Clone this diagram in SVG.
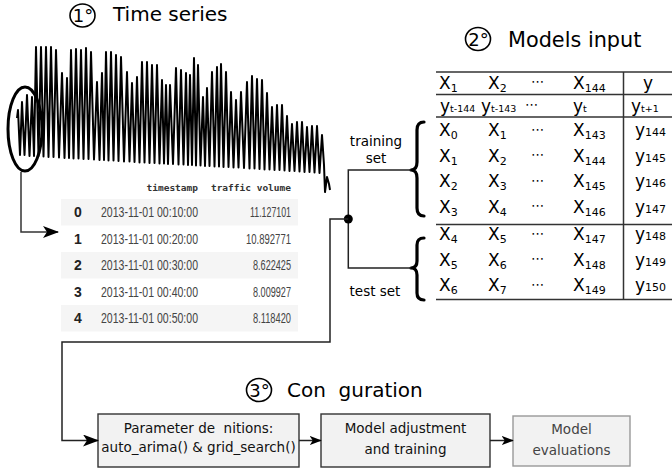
<svg xmlns="http://www.w3.org/2000/svg" width="672" height="470" viewBox="0 0 672 470">
<style>
.t{font-family:"DejaVu Sans","Liberation Sans",sans-serif;fill:#000}
.title{font-size:20px}
.title2{font-size:20.8px}
.circ{font-size:18px}
.ring{fill:none;stroke:#000;stroke-width:1.6}
.m{font-size:17px}
.s{font-size:11px}
.ss{font-size:9.5px}
.hl{stroke:#333;stroke-width:1.5}
.lbl{font-size:13.5px}
.ph{font-family:"DejaVu Sans Mono",monospace;font-weight:bold;font-size:9.5px;fill:#333}
.pi{font-family:"Liberation Sans",Arial,sans-serif;font-weight:bold;font-size:14px;fill:#222}
.pt{font-family:"Liberation Sans",Arial,sans-serif;font-size:14px;fill:#444}
.band{fill:#f5f5f5}
.box{fill:#f2f2f2;stroke:#333;stroke-width:1.4}
.box3{fill:#f2f2f2;stroke:#999;stroke-width:1.4}
.bt{font-family:"DejaVu Sans","Liberation Sans",sans-serif;font-size:13.5px;fill:#111;text-anchor:middle}
.pre{white-space:pre}
.conn{fill:none;stroke:#222;stroke-width:1.5}
.brace{fill:none;stroke:#000;stroke-width:3.2;stroke-linejoin:round;stroke-linecap:round}
</style>
<defs>
<marker id="arr" viewBox="0 0 16 12" markerWidth="16" markerHeight="12" refX="15" refY="6" orient="auto" markerUnits="userSpaceOnUse">
<path d="M0,0 L16,6 L0,12 L4,6 z" fill="#000"/>
</marker>
<marker id="arrs" viewBox="0 0 16 12" markerWidth="12" markerHeight="9" refX="15" refY="6" orient="auto" markerUnits="userSpaceOnUse">
<path d="M0,0 L16,6 L0,12 L4,6 z" fill="#000"/>
</marker>
</defs>

<g id="title1">
<ellipse class="ring" cx="82.5" cy="15.5" rx="12.5" ry="11.5"/>
<text class="t circ" x="83" y="22" text-anchor="middle">1°</text>
<text class="t title" x="113" y="21">Time series</text>
</g>

<g id="timeseries">
<polyline fill="none" stroke="#000" stroke-width="2" stroke-linejoin="round" points="17,118 18,110 20,155 22,102 24.5,155 27,95 29.5,156 32,97 34,156 36,47 38.5,156 41,47 43.5,156.5 46,47 48.5,157 51,47 53.5,157 56,50 59,157.5 62,73 64.5,158 67,78 69,158 71,50 73.5,158.5 76,49 78.5,158.5 81,50 83.5,159 86,48 88.5,159 91,52 94,159.5 97,82 99.5,160 102,73 104,160 106,52 108.5,160.5 111,52 113.5,160.5 116,55 118.5,161 121,57 124,161.5 127,72 129.5,161.5 132,83 134.5,162 137,77 139.5,162.5 142,62 144.5,162.5 147,62 149.5,163 152,65 154.5,163 157,65 159.5,163.5 162,80 164,163.5 166,85 168,164 170,85 173,164 176,68 178.5,164.5 181,70 183.5,164.5 186,73 188,165 190,75 192,165 194,58 196,165.5 198,65 200.5,165.5 203,97 205,166 207,88 209.5,166 212,72 214.5,166.5 217,67 219,166.5 221,64 223.5,167 226,72 228.5,167 231,92 233.5,167.5 236,100 238.5,167.5 241,92 244,168 247,82 249.5,168.5 252,76 254.5,168.5 257,79 259.5,169 262,80 264.5,169.5 267,93 269.5,169.5 272,107 274.5,170 277,105 279.5,170 282,105 284.5,170.5 287,116 289.5,171 292,124 294.5,171 297,122 299.5,171.5 302,122 304.5,172 307,127 309.5,172 312,126 314.5,172.5 317,126 319.5,173 322,135 324,165 325,192 327,177 329,184 330,190"/>
<ellipse cx="25" cy="129" rx="17" ry="42" fill="none" stroke="#000" stroke-width="3"/>
</g>

<g id="dataframe">
<rect class="band" x="61" y="199" width="237" height="26.5"/>
<rect class="band" x="61" y="252" width="237" height="26.5"/>
<rect class="band" x="61" y="305" width="237" height="26.5"/>
<text class="ph" x="198" y="191" text-anchor="end">timestamp</text>
<text class="ph" x="291" y="191" text-anchor="end">traffic volume</text>
<text class="pi" x="78" y="217" text-anchor="middle">0</text>
<text class="pi" x="78" y="243.5" text-anchor="middle">1</text>
<text class="pi" x="78" y="270" text-anchor="middle">2</text>
<text class="pi" x="78" y="296.5" text-anchor="middle">3</text>
<text class="pi" x="78" y="323" text-anchor="middle">4</text>
<text class="pt" x="101" y="217" textLength="97" lengthAdjust="spacingAndGlyphs">2013-11-01 00:10:00</text>
<text class="pt" x="101" y="243.5" textLength="97" lengthAdjust="spacingAndGlyphs">2013-11-01 00:20:00</text>
<text class="pt" x="101" y="270" textLength="97" lengthAdjust="spacingAndGlyphs">2013-11-01 00:30:00</text>
<text class="pt" x="101" y="296.5" textLength="97" lengthAdjust="spacingAndGlyphs">2013-11-01 00:40:00</text>
<text class="pt" x="101" y="323" textLength="97" lengthAdjust="spacingAndGlyphs">2013-11-01 00:50:00</text>
<text class="pt" x="250" y="217" textLength="41" lengthAdjust="spacingAndGlyphs">11.127101</text>
<text class="pt" x="246" y="243.5" textLength="45" lengthAdjust="spacingAndGlyphs">10.892771</text>
<text class="pt" x="253" y="270" textLength="38" lengthAdjust="spacingAndGlyphs">8.622425</text>
<text class="pt" x="253" y="296.5" textLength="38" lengthAdjust="spacingAndGlyphs">8.009927</text>
<text class="pt" x="253" y="323" textLength="38" lengthAdjust="spacingAndGlyphs">8.118420</text>
</g>

<g id="title2">
<ellipse class="ring" cx="478" cy="39" rx="12.5" ry="11.5"/>
<text class="t circ" x="478.5" y="45.5" text-anchor="middle">2°</text>
<text class="t title2" x="508" y="47">Models input</text>
</g>

<g id="models-input">
<line class="hl" x1="436" y1="72" x2="672" y2="72"/>
<line class="hl" x1="436" y1="94.5" x2="672" y2="94.5"/>
<line class="hl" x1="436" y1="117" x2="672" y2="117"/>
<line class="hl" x1="436" y1="224.5" x2="672" y2="224.5"/>
<line class="hl" x1="436" y1="299.5" x2="672" y2="299.5"/>
<line class="hl" x1="623.5" y1="72" x2="623.5" y2="299.5"/>
<g class="t m">
<text x="439" y="88.5">X<tspan class="s" dy="3">1</tspan></text>
<text x="488" y="88.5">X<tspan class="s" dy="3">2</tspan></text>
<text x="531" y="86" font-size="13">⋯</text>
<text x="573" y="88.5">X<tspan class="s" dy="3">144</tspan></text>
<text x="643" y="88.5">y</text>

<text x="440" y="111.5">y<tspan class="ss">t-144</tspan></text>
<text x="481" y="111.5">y<tspan class="ss">t-143</tspan></text>
<text x="525" y="109" font-size="13">⋯</text>
<text x="573" y="111.5">y<tspan class="ss">t</tspan></text>
<text x="631" y="111.5">y<tspan class="ss" font-size="10.5">t+1</tspan></text>

<text x="439" y="136">X<tspan class="s" dy="3">0</tspan></text>
<text x="488" y="136">X<tspan class="s" dy="3">1</tspan></text>
<text x="531" y="133.5" font-size="13">⋯</text>
<text x="573" y="136">X<tspan class="s" dy="3">143</tspan></text>
<text x="635" y="136">y<tspan class="s">144</tspan></text>

<text x="439" y="161.5">X<tspan class="s" dy="3">1</tspan></text>
<text x="488" y="161.5">X<tspan class="s" dy="3">2</tspan></text>
<text x="531" y="159" font-size="13">⋯</text>
<text x="573" y="161.5">X<tspan class="s" dy="3">144</tspan></text>
<text x="635" y="161.5">y<tspan class="s">145</tspan></text>

<text x="439" y="187">X<tspan class="s" dy="3">2</tspan></text>
<text x="488" y="187">X<tspan class="s" dy="3">3</tspan></text>
<text x="531" y="184.5" font-size="13">⋯</text>
<text x="573" y="187">X<tspan class="s" dy="3">145</tspan></text>
<text x="635" y="187">y<tspan class="s">146</tspan></text>

<text x="439" y="212.5">X<tspan class="s" dy="3">3</tspan></text>
<text x="488" y="212.5">X<tspan class="s" dy="3">4</tspan></text>
<text x="531" y="210" font-size="13">⋯</text>
<text x="573" y="212.5">X<tspan class="s" dy="3">146</tspan></text>
<text x="635" y="212.5">y<tspan class="s">147</tspan></text>

<text x="439" y="240">X<tspan class="s" dy="3">4</tspan></text>
<text x="488" y="240">X<tspan class="s" dy="3">5</tspan></text>
<text x="531" y="237.5" font-size="13">⋯</text>
<text x="573" y="240">X<tspan class="s" dy="3">147</tspan></text>
<text x="635" y="240">y<tspan class="s">148</tspan></text>

<text x="439" y="265.5">X<tspan class="s" dy="3">5</tspan></text>
<text x="488" y="265.5">X<tspan class="s" dy="3">6</tspan></text>
<text x="531" y="263" font-size="13">⋯</text>
<text x="573" y="265.5">X<tspan class="s" dy="3">148</tspan></text>
<text x="635" y="265.5">y<tspan class="s">149</tspan></text>

<text x="439" y="291">X<tspan class="s" dy="3">6</tspan></text>
<text x="488" y="291">X<tspan class="s" dy="3">7</tspan></text>
<text x="531" y="288.5" font-size="13">⋯</text>
<text x="573" y="291">X<tspan class="s" dy="3">149</tspan></text>
<text x="635" y="291">y<tspan class="s">150</tspan></text>
</g>
</g>

<g id="training-set">
<path class="brace" d="M424,122 Q417,122 417,130 L417,162 Q417,170 411,170 Q417,170 417,178 L417,208 Q417,216 424,216"/>
<text class="t lbl" x="376" y="146" text-anchor="middle">training</text>
<text class="t lbl" x="376" y="163" text-anchor="middle">set</text>
</g>

<g id="test-set">
<path class="brace" d="M424,238 Q417,238 417,245 L417,261 Q417,268 411,268 Q417,268 417,275 L417,293 Q417,300 424,300"/>
<text class="t lbl" x="375" y="296" text-anchor="middle">test set</text>
</g>

<g id="title3">
<ellipse class="ring" cx="259" cy="390" rx="12.5" ry="11.5"/>
<text class="t circ" x="259.5" y="396.5" text-anchor="middle">3°</text>
<text class="t title pre" x="287" y="397">Con  guration</text>
</g>

<g id="box-params">
<rect class="box" x="98" y="414" width="201" height="53"/>
<text class="bt pre" x="198.5" y="433">Parameter de  nitions:</text>
<text class="bt" x="198.5" y="452">auto_arima() &amp; grid_search()</text>
</g>

<g id="box-training">
<rect class="box" x="321" y="414" width="169" height="53"/>
<text class="bt" x="405.5" y="433">Model adjustment</text>
<text class="bt" x="405.5" y="454">and training</text>
</g>

<g id="box-eval">
<rect class="box3" x="513" y="416" width="117" height="50"/>
<text class="bt" x="571.5" y="434" style="fill:#444">Model</text>
<text class="bt" x="571.5" y="455" style="fill:#444">evaluations</text>
</g>

<g id="connectors">
<path class="conn" d="M21,172 V232 H58" marker-end="url(#arr)" style="stroke:#333"/>
<path class="conn" d="M411,170 H348.3 V268 H411"/>
<circle cx="348.3" cy="219" r="4.5" fill="#000"/>
<path class="conn" d="M348.3,219 H330 V342 H62 V440.5 H98" marker-end="url(#arr)"/>
<path class="conn" d="M299,440.5 H321" marker-end="url(#arrs)"/>
<path class="conn" d="M490,440.5 H513" marker-end="url(#arrs)"/>
</g>
</svg>
